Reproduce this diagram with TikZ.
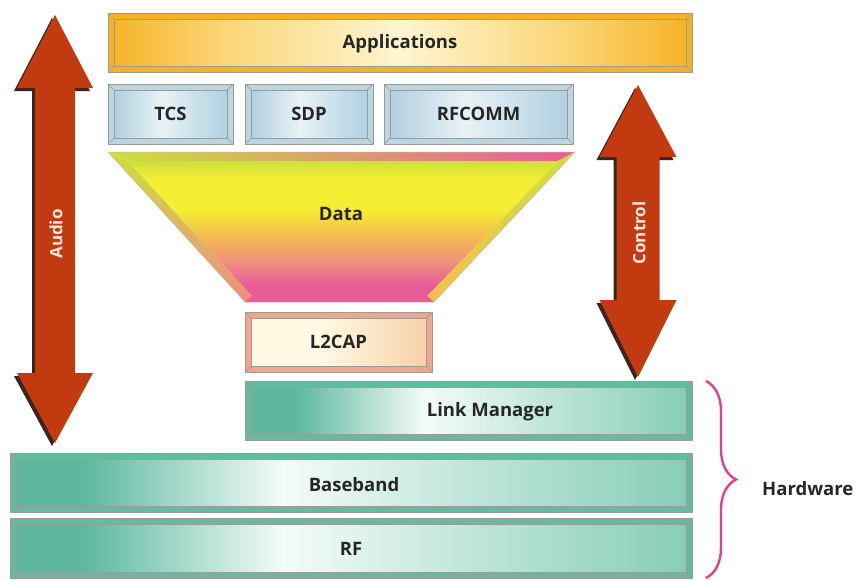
\documentclass[tikz,border=0pt]{standalone}
\usepackage{fontspec}
\setmainfont{Open Sans}
\usetikzlibrary{decorations.pathreplacing,calc}

% colours
\definecolor{framegray}{HTML}{9C9C94}
\definecolor{arrowred}{HTML}{C23A10}
\definecolor{arrowshadow}{HTML}{3E2418}
\definecolor{arrowtext}{HTML}{FBE6DC}
\definecolor{appband}{HTML}{F5B323}
\definecolor{appedge}{HTML}{F6B42A}
\definecolor{appmid}{HTML}{FBD77A}
\definecolor{applight}{HTML}{FFF5D2}
\definecolor{blueband}{HTML}{BCD5E1}
\definecolor{blueedge}{HTML}{B1D0E1}
\definecolor{bluelight}{HTML}{E8F2F6}
\definecolor{tealband}{HTML}{63BBA4}
\definecolor{tealdark}{HTML}{5DB89F}
\definecolor{teallight}{HTML}{F4FBF8}
\definecolor{tealmid}{HTML}{BCE4D8}
\definecolor{tealright}{HTML}{88CDB8}
\definecolor{lband}{HTML}{F2A48C}
\definecolor{lleft}{HTML}{FFF8E2}
\definecolor{lright}{HTML}{F8D2AA}
\definecolor{dpink}{HTML}{E85C9A}
\definecolor{dsalmon}{HTML}{EF8D80}
\definecolor{dorange}{HTML}{F5BF4C}
\definecolor{dyellow}{HTML}{F5EE32}
\definecolor{dgreen}{HTML}{CDE03C}
\definecolor{bracepink}{HTML}{E2408A}
\definecolor{labeltext}{HTML}{262626}

% fills of the layer boxes (path box = 25bp..75bp)
\pgfdeclarehorizontalshading{appshade}{100bp}{color(0bp)=(appedge); color(25bp)=(appedge);
  color(35bp)=(appmid); color(50bp)=(applight); color(64bp)=(appmid); color(75bp)=(appedge); color(100bp)=(appedge)}
\pgfdeclarehorizontalshading{blueshade}{100bp}{color(0bp)=(blueedge); color(25bp)=(blueedge);
  color(46bp)=(bluelight); color(75bp)=(blueedge); color(100bp)=(blueedge)}
\pgfdeclarehorizontalshading{tealshade}{100bp}{color(0bp)=(tealdark); color(25bp)=(tealdark);
  color(30bp)=(tealdark); color(45bp)=(teallight); color(60bp)=(tealmid); color(75bp)=(tealright); color(100bp)=(tealright)}
\pgfdeclarehorizontalshading{lshade}{100bp}{color(0bp)=(lleft); color(25bp)=(lleft);
  color(45bp)=(lleft); color(75bp)=(lright); color(100bp)=(lright)}
\pgfdeclareverticalshading{datashade}{100bp}{color(0bp)=(dpink); color(25bp)=(dpink);
  color(29bp)=(dpink); color(37bp)=(dsalmon); color(48bp)=(dorange); color(57bp)=(dyellow);
  color(68bp)=(dyellow); color(75bp)=(dgreen); color(100bp)=(dgreen)}

\tikzset{
  bevel/.style={draw=framegray, line width=0.7pt},
  lbl/.style={font=\bfseries\fontsize{18.5}{22}\selectfont, text=labeltext, inner sep=0pt},
  arrowlbl/.style={font=\bfseries\fontsize{17}{20}\selectfont, text=arrowtext, inner sep=0pt, rotate=90},
  bracestyle/.style={draw=bracepink, line width=2.4pt,
    decorate, decoration={brace, amplitude=30pt}},
}

% bevelled layer: x0 y0 x1 y1 band shading
\newcommand\layerbox[6]{%
  \fill[#5] (#1,#2) rectangle (#3,#4);
  \shade[shading=#6] ({#1+6},{#2+6}) rectangle ({#3-6},{#4-6});
  \draw[bevel] (#1,#2) rectangle (#3,#4);
  \draw[bevel] ({#1+6},{#2+6}) rectangle ({#3-6},{#4-6});
  \draw[bevel] (#1,#2) -- ({#1+6},{#2+6}) (#3,#2) -- ({#3-6},{#2+6})
               (#1,#4) -- ({#1+6},{#4-6}) (#3,#4) -- ({#3-6},{#4-6});
}

% double-headed block arrow: centre x, tip top, head base top, head base bottom, tip bottom, head half width, shaft half width
\newcommand\blockarrow[7]{%
  \fill[arrowshadow] ({#1-3},{#2+3}) -- ({#1+#6-3},{#3+3}) -- ({#1+#7-3},{#3+3})
     -- ({#1+#7-3},{#4+3}) -- ({#1+#6-3},{#4+3}) -- ({#1-3},{#5+3})
     -- ({#1-#6-3},{#4+3}) -- ({#1-#7-3},{#4+3}) -- ({#1-#7-3},{#3+3}) -- ({#1-#6-3},{#3+3}) -- cycle;
  \fill[arrowred] (#1,#2) -- ({#1+#6},#3) -- ({#1+#7},#3) -- ({#1+#7},#4) -- ({#1+#6},#4)
     -- (#1,#5) -- ({#1-#6},#4) -- ({#1-#7},#4) -- ({#1-#7},#3) -- ({#1-#6},#3) -- cycle;
}

\begin{document}
\begin{tikzpicture}[x=1pt, y=-1pt]
  \useasboundingbox (0,0) rectangle (855,579);

  % upper stack
  \layerbox{108}{13}{692}{72}{appband}{appshade}
  \node[lbl] (apps) at (400,44) {Applications};
  \layerbox{108}{84}{233}{144}{blueband}{blueshade}
  \node[lbl] (tcs) at (170.5,114) {TCS};
  \layerbox{245}{84}{373}{144}{blueband}{blueshade}
  \node[lbl] (sdp) at (309,114) {SDP};
  \layerbox{384}{84}{573}{144}{blueband}{blueshade}
  \node[lbl] (rfcomm) at (478.5,114) {RFCOMM};

  % data funnel
  \coordinate (A) at (108,152);  \coordinate (B) at (575,152);
  \coordinate (C) at (434,302);  \coordinate (D) at (245,302);
  \coordinate (a) at (128,161);  \coordinate (b) at (558,161);
  \coordinate (c) at (427,296);  \coordinate (d) at (252,296);
  \shade[top color=dgreen, bottom color=dsalmon] (A) -- (a) -- (d) -- (D) -- cycle;
  \shade[left color=dgreen, right color=dpink] (A) -- (B) -- (b) -- (a) -- cycle;
  \shade[top color=dgreen, bottom color=dorange] (B) -- (C) -- (c) -- (b) -- cycle;
  \fill[dpink] (D) -- (d) -- (c) -- (C) -- cycle;
  \shade[shading=datashade] (a) -- (b) -- (c) -- (d) -- cycle;
  \draw[draw=framegray!70, line width=0.5pt] (A) -- (B) -- (C) -- (D) -- cycle;
  \node[lbl] (data) at (341,214) {Data};

  % L2CAP
  \layerbox{245}{312}{432}{372}{lband}{lshade}
  \node[lbl] (l2cap) at (338.5,342) {L2CAP};

  % hardware layers
  \layerbox{245}{381}{692}{440}{tealband}{tealshade}
  \node[lbl] (lm) at (490,412) {Link Manager};
  \layerbox{10}{453}{692}{512}{tealband}{tealshade}
  \node[lbl] (bb) at (354,485) {Baseband};
  \layerbox{10}{518}{692}{578}{tealband}{tealshade}
  \node[lbl] (rf) at (351,549) {RF};

  % audio and control arrows
  \blockarrow{55}{15}{88}{373}{443}{38}{20}
  \node[arrowlbl] (audio) at (56,234) {Audio};
  \blockarrow{638}{85}{157}{300}{377}{38.5}{21.5}
  \node[arrowlbl] (control) at (639,233) {Control};

  % hardware brace
  \coordinate (bt) at (706,381);
  \coordinate (bb2) at (706,578);
  \draw[bracestyle] (bt) -- (bb2);
  \node[font=\bfseries\fontsize{18.5}{22}\selectfont, text=labeltext, anchor=west, inner sep=0pt] (hw) at (762,489) {Hardware};
\end{tikzpicture}
\end{document}
